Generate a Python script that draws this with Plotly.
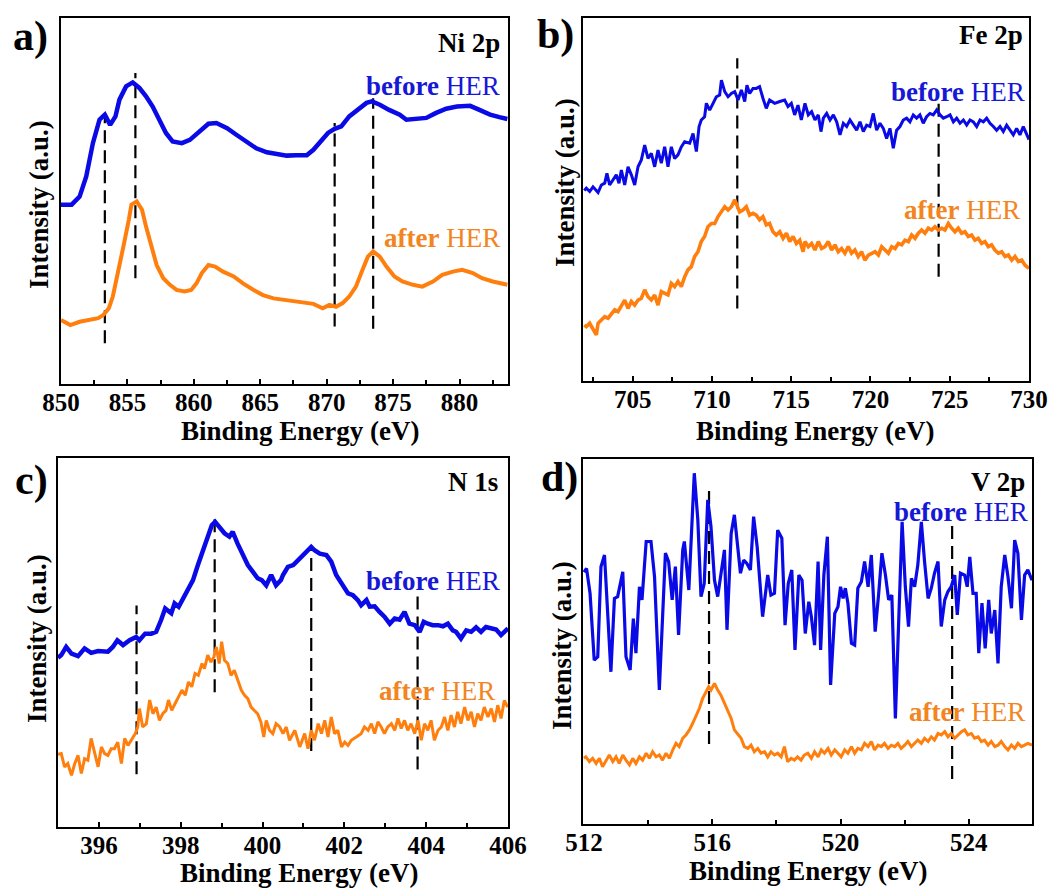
import plotly.graph_objects as go

# ---------------- data (Binding Energy in eV, intensity in a.u.) ----------------
# Panel a) Ni 2p
A_BEFORE_E = [850.0, 850.8, 851.4, 851.9, 852.4, 852.9, 853.3, 853.7, 854.1, 854.4, 854.9, 855.4, 855.9, 856.4,
              856.9, 857.4, 857.9, 858.4, 859.1, 859.7, 860.3, 860.7, 861.1, 861.7, 862.5, 863.2, 864.0, 864.7,
              865.5, 866.2, 867.0, 867.7, 868.5, 869.0, 869.5, 870.1, 870.6, 871.1, 871.7, 872.4, 873.0, 873.4,
              874.0, 874.7, 875.5, 876.0, 876.7, 877.5, 878.2, 879.0, 879.8, 880.8, 881.5, 882.3, 883.0, 883.6]
A_BEFORE_I = [49.0, 49.0, 51.2, 56.7, 65.8, 72.2, 73.6, 70.8, 73.1, 77.7, 81.3, 82.4, 80.9, 78.6,
              75.8, 72.2, 68.6, 66.3, 65.8, 66.7, 68.6, 69.9, 71.1, 71.3, 69.9, 68.1, 66.3, 64.4,
              63.3, 62.9, 62.4, 62.5, 62.5, 64.0, 66.3, 68.6, 69.7, 70.4, 73.1, 74.9, 76.8, 77.2,
              76.3, 74.9, 73.6, 72.2, 72.5, 72.7, 74.0, 75.2, 75.8, 76.0, 74.9, 73.6, 72.9, 72.4]
A_AFTER_E = [850.0, 850.7, 851.4, 852.2, 852.8, 853.2, 853.6, 853.9, 854.3, 854.7, 855.1, 855.3, 855.7, 856.1,
             856.4, 856.8, 857.2, 857.7, 858.2, 858.7, 859.3, 859.8, 860.2, 860.6, 861.1, 861.6, 862.2, 863.0,
             863.7, 864.5, 865.2, 866.0, 866.7, 867.5, 868.2, 869.0, 869.7, 870.2, 870.7, 871.2, 871.7, 872.2,
             872.7, 873.1, 873.5, 874.0, 874.5, 875.1, 875.7, 876.5, 877.2, 878.0, 878.7, 879.5, 880.2, 881.0,
             881.7, 882.5, 883.6]
A_AFTER_I = [17.5, 16.1, 17.0, 17.5, 18.0, 18.9, 20.7, 23.9, 30.3, 37.6, 44.8, 49.0, 49.9, 47.6,
             43.0, 37.6, 32.5, 28.9, 27.1, 25.7, 25.3, 25.7, 27.5, 30.3, 32.5, 32.1, 30.7, 29.4,
             27.5, 25.7, 24.3, 23.4, 23.0, 22.5, 22.1, 21.9, 20.7, 21.6, 21.1, 22.1, 23.9, 26.6,
             31.2, 34.8, 36.2, 34.8, 32.1, 29.4, 28.0, 27.1, 26.6, 28.0, 29.8, 30.7, 31.2, 30.3,
             28.9, 28.0, 27.1]
A_DASH_E = [853.3, 855.6, 870.6, 873.5]
A_DASH_LO = [11.1, 28.9, 15.7, 15.1]
A_DASH_HI = [73.6, 85.0, 71.3, 78.1]
A_TICKS = [850, 855, 860, 865, 870, 875, 880]

# Panel b) Fe 2p
B_BEFORE_E = [701.95, 702.08, 702.29, 702.50, 702.82, 703.03, 703.24, 703.38, 703.55, 703.76, 703.97, 704.14,
              704.29, 704.50, 704.71, 704.92, 705.13, 705.34, 705.55, 705.76, 705.97, 706.18, 706.39, 706.60,
              706.81, 707.02, 707.23, 707.44, 707.65, 707.86, 708.07, 708.28, 708.60, 708.81, 709.02, 709.19,
              709.33, 709.54, 709.65, 709.86, 710.07, 710.28, 710.49, 710.60, 710.81, 711.02, 711.23, 711.44,
              711.65, 711.86, 712.07, 712.21, 712.38, 712.59, 712.80, 713.01, 713.22, 713.43, 713.64, 713.96,
              714.28, 714.59, 714.80, 715.01, 715.22, 715.43, 715.64,
              715.87, 716.08, 716.29, 716.50, 716.71, 716.88, 717.03, 717.24, 717.45, 717.66, 717.87, 718.08,
              718.29, 718.50, 718.71, 718.92, 719.13, 719.34, 719.55, 719.76, 719.97, 720.18, 720.39, 720.60,
              720.81, 721.02, 721.23, 721.44, 721.65, 721.86, 722.07, 722.28, 722.49, 722.70, 722.91, 723.12,
              723.33, 723.54, 723.75, 723.96, 724.18, 724.39, 724.60, 724.81, 725.02, 725.23, 725.44, 725.65,
              725.86, 726.07, 726.28, 726.49, 726.70, 726.91, 727.12, 727.33, 727.54, 727.75, 727.96, 728.17,
              728.38, 728.59, 728.80, 729.01, 729.22, 729.43, 729.64, 729.85, 730.0]
B_BEFORE_I = [52.5, 53.1, 52.2, 53.5, 51.9, 54.0, 54.5, 57.2, 54.0, 55.4, 56.8, 54.5,
              58.1, 54.0, 59.0, 56.8, 54.0, 59.0, 60.9, 65.0, 61.3, 62.7, 59.0, 63.6,
              60.0, 64.5, 59.0, 64.5, 61.3, 62.3, 64.5, 65.9, 65.5, 68.2, 63.2, 70.1,
              71.9, 72.8, 76.5, 74.6, 76.5, 78.3, 78.8, 82.9, 79.7, 78.3, 79.2, 79.7,
              77.4, 80.2, 77.0, 81.5, 79.2, 80.6, 80.6, 81.1, 77.9, 75.1, 77.4, 76.5,
              77.0, 77.4, 75.6, 76.5, 73.3, 76.0, 71.9,
              76.5, 73.3, 74.2, 71.9, 73.3, 68.7, 72.4, 73.7, 71.9, 73.3, 71.4, 67.8,
              71.0, 70.1, 71.9, 70.5, 69.1, 71.4, 68.7, 70.5, 70.1, 73.7, 69.1, 71.0,
              69.6, 66.8, 69.6, 64.1, 69.1, 70.1, 71.9, 72.4, 71.4, 73.3, 72.4, 73.3,
              71.0, 72.8, 73.7, 73.3, 74.7, 73.3, 72.4, 72.8, 73.3, 71.4, 72.4, 71.0,
              71.9, 70.5, 71.9, 71.4, 70.1, 71.9, 71.4, 72.4, 71.0, 70.1, 69.1, 70.1,
              68.7, 70.5, 69.1, 67.8, 69.6, 67.8, 70.1, 67.8, 66.5]
B_AFTER_E = [701.95, 702.08, 702.29, 702.50, 702.71, 702.82, 703.03, 703.24, 703.45, 703.66, 703.87, 704.08,
             704.29, 704.50, 704.71, 704.92, 705.13, 705.34, 705.55, 705.76, 705.97, 706.18, 706.39, 706.60,
             706.81, 707.02, 707.23, 707.44, 707.65, 707.86, 708.07, 708.28, 708.49, 708.70, 708.91, 709.12,
             709.33, 709.54, 709.75, 709.97, 710.18, 710.39, 710.60, 710.81, 711.02, 711.23, 711.44, 711.65,
             711.75, 711.96, 712.17, 712.38, 712.59, 712.80, 713.01, 713.22, 713.43, 713.64, 713.85, 714.06,
             714.28, 714.49, 714.70, 714.91, 715.12, 715.33, 715.54, 715.75,
             715.87, 716.08, 716.29, 716.50, 716.71, 716.92, 717.13, 717.34, 717.55, 717.76, 717.97, 718.18,
             718.39, 718.60, 718.81, 719.02, 719.23, 719.44, 719.65, 719.87, 720.08, 720.29, 720.50, 720.71,
             720.92, 721.13, 721.34, 721.55, 721.76, 721.97, 722.18, 722.39, 722.60, 722.81, 723.02, 723.23,
             723.44, 723.65, 723.86, 724.07, 724.28, 724.49, 724.70, 724.91, 725.12, 725.33, 725.54, 725.75,
             725.96, 726.17, 726.38, 726.59, 726.80, 727.01, 727.22, 727.43, 727.64, 727.85, 728.07, 728.28,
             728.49, 728.70, 728.91, 729.12, 729.33, 729.54, 729.75, 730.0]
B_AFTER_I = [15.4, 15.0, 15.9, 14.5, 12.7, 15.9, 16.8, 17.7, 17.3, 18.6, 19.6, 19.1,
             20.9, 22.3, 20.0, 21.9, 20.9, 22.3, 22.8, 25.1, 23.2, 22.3, 23.7, 20.9,
             24.6, 24.1, 23.7, 26.9, 26.0, 27.4, 26.0, 28.7, 30.6, 31.5, 34.3, 35.6,
             38.4, 39.8, 42.5, 43.4, 43.4, 45.3, 46.6, 48.0, 47.1, 48.0, 49.9, 48.0,
             46.6, 47.1, 48.0, 45.7, 46.2, 45.7, 44.4, 45.3, 43.0, 43.4, 41.1, 40.2,
             41.1, 39.3, 40.7, 38.4, 39.8, 37.9, 38.8, 35.6,
             38.4, 37.0, 37.9, 36.1, 38.4, 36.5, 37.0, 38.4, 36.1, 37.5, 35.6, 36.5,
             35.2, 37.0, 35.2, 36.1, 34.3, 35.6, 33.3, 34.7, 35.2, 35.6, 34.7, 37.0,
             36.1, 35.2, 37.0, 36.5, 37.9, 37.5, 38.8, 38.4, 40.2, 39.3, 40.7, 41.6,
             40.7, 42.1, 41.6, 42.5, 41.6, 42.1, 41.6, 43.4, 42.1, 41.1, 42.1, 40.7,
             41.1, 39.8, 40.2, 38.8, 39.3, 37.9, 38.4, 37.0, 37.5, 36.1, 35.2, 35.6,
             34.3, 34.7, 33.3, 34.3, 32.9, 33.3, 31.9, 31.0]
B_DASH_E = [711.6, 724.3]
B_DASH_LO = [20.0, 28.7]
B_DASH_HI = [88.9, 77.9]
B_TICKS = [705, 710, 715, 720, 725, 730]

# Panel c) N 1s
C_BEFORE_E = [395.0, 395.08, 395.20, 395.33, 395.49, 395.65, 395.81, 395.98, 396.22, 396.34, 396.45, 396.59,
              396.75, 396.91, 396.99, 397.13, 397.28, 397.40, 397.52, 397.62, 397.77, 397.85, 397.95, 398.05,
              398.17, 398.30, 398.42, 398.54, 398.66, 398.76, 398.84, 398.95, 399.07, 399.19, 399.27, 399.39,
              399.52, 399.64, 399.76, 399.88, 399.98, 400.09, 400.21, 400.33, 400.45,
              400.50, 400.62, 400.75, 400.87, 400.99, 401.11, 401.19, 401.27, 401.40, 401.56, 401.68, 401.80,
              401.97, 402.09, 402.21, 402.33, 402.41, 402.54, 402.62, 402.74, 402.86, 402.98, 403.11, 403.23,
              403.35, 403.47, 403.59, 403.72, 403.84, 403.94, 404.04, 404.16, 404.29, 404.41, 404.53, 404.65,
              404.73, 404.85, 404.98, 405.10, 405.22, 405.34, 405.46, 405.59, 405.71, 405.83, 405.95, 406.0]
C_BEFORE_I = [45.9, 46.6, 48.8, 47.0, 46.3, 48.4, 47.2, 47.7, 47.5, 48.8, 50.6, 49.3,
              50.6, 51.5, 50.6, 52.4, 52.4, 52.9, 56.1, 59.2, 57.9, 60.6, 59.7, 61.9,
              64.2, 66.9, 71.0, 75.0, 78.2, 81.8, 82.7, 81.4, 79.6, 78.7, 80.0, 76.8,
              73.7, 71.0, 69.2, 67.4, 66.9, 65.5, 68.3, 65.5, 66.9,
              68.3, 70.5, 71.0, 72.3, 73.7, 75.0, 75.9, 75.0, 74.1, 73.7, 71.9, 68.3,
              65.5, 63.3, 62.8, 61.5, 60.1, 61.5, 59.7, 59.8, 58.3, 57.0, 55.1, 56.5,
              56.2, 58.3, 55.1, 54.7, 52.9, 55.6, 55.1, 54.7, 54.7, 54.4, 55.1, 53.3,
              52.9, 51.1, 53.3, 52.9, 54.1, 52.9, 54.2, 53.8, 53.5, 52.0, 53.5, 53.8]
C_AFTER_E = [395.0, 395.08, 395.16, 395.24, 395.33, 395.41, 395.49, 395.57, 395.65, 395.73, 395.81, 395.90,
             395.98, 396.06, 396.14, 396.22, 396.30, 396.38, 396.46, 396.55, 396.63, 396.71, 396.79, 396.89,
             396.95, 396.99, 397.07, 397.16, 397.24, 397.32, 397.40, 397.48, 397.56, 397.64, 397.70, 397.78,
             397.86, 397.95, 398.03, 398.11, 398.19, 398.27, 398.35, 398.43, 398.52, 398.58, 398.66, 398.74,
             398.81, 398.87, 398.94, 399.00, 399.07, 399.15, 399.23, 399.31, 399.39, 399.48, 399.56, 399.64,
             399.72, 399.80, 399.88, 399.96, 400.03, 400.09, 400.17, 400.25, 400.33,
             400.42, 400.50, 400.58, 400.66, 400.79, 400.91, 401.03, 401.11, 401.19, 401.27, 401.36, 401.44,
             401.52, 401.60, 401.68, 401.76, 401.84, 401.93, 402.01, 402.09, 402.17, 402.29, 402.41, 402.49,
             402.58, 402.66, 402.74, 402.82, 402.90, 402.98, 403.06, 403.15, 403.23, 403.31, 403.39, 403.47,
             403.55, 403.63, 403.72, 403.80, 403.88, 403.96, 404.04, 404.12, 404.20, 404.29, 404.37, 404.45,
             404.53, 404.61, 404.69, 404.77, 404.85, 404.94, 405.02, 405.10, 405.18, 405.26, 405.34, 405.42,
             405.51, 405.59, 405.67, 405.75, 405.83, 405.91, 405.99]
C_AFTER_I = [19.7, 19.9, 16.3, 17.2, 14.0, 17.2, 19.4, 14.5, 18.5, 18.1, 24.0, 19.9,
             16.3, 21.7, 19.9, 19.4, 21.2, 21.2, 23.0, 17.2, 24.0, 22.1, 23.5, 25.3,
             27.1, 32.1, 27.1, 28.0, 34.4, 30.7, 32.5, 28.9, 30.7, 31.6, 34.4, 31.6,
             33.4, 35.3, 37.1, 35.7, 39.3, 38.0, 41.6, 41.1, 44.3, 42.9, 46.6, 44.7,
             46.1, 48.8, 44.3, 50.2, 45.2, 44.3, 41.1, 42.5, 39.8, 37.1, 35.7, 34.8,
             32.5, 31.6, 30.7, 28.5, 24.4, 28.9, 26.2, 25.3, 28.0,
             27.1, 25.3, 27.1, 23.5, 26.2, 21.7, 25.3, 21.2, 26.2, 23.5, 28.0, 25.3,
             28.9, 24.4, 29.8, 25.3, 26.2, 21.7, 23.0, 22.1, 23.5, 24.4, 25.3, 27.1,
             26.2, 28.0, 25.3, 28.5, 27.1, 25.3, 27.1, 28.0, 26.2, 29.4, 26.7, 28.9,
             26.2, 28.0, 25.3, 28.9, 23.5, 28.0, 26.2, 28.9, 23.5, 26.2, 27.1, 29.8,
             26.2, 30.3, 27.1, 31.2, 28.0, 32.5, 28.9, 31.2, 27.1, 30.7, 28.9, 32.5,
             29.8, 32.1, 28.5, 33.0, 29.4, 34.3, 32.5]
C_DASH_E = [396.92, 398.83, 401.19, 403.79]
C_DASH_LO = [14.3, 36.5, 20.6, 15.6]
C_DASH_HI = [60.0, 84.8, 76.2, 63.1]
C_TICKS = [396, 398, 400, 402, 404, 406]

# Panel d) V 2p
D_BEFORE_E = [512.0, 512.08, 512.19, 512.32, 512.43, 512.53, 512.64, 512.74, 512.84, 512.95, 513.05, 513.21,
              513.31, 513.44, 513.54, 513.62, 513.73, 513.81, 513.94, 514.09, 514.20, 514.35, 514.54, 514.64,
              514.75, 514.85, 514.95, 515.08, 515.13, 515.27, 515.44, 515.55, 515.65, 515.75, 515.86, 515.96,
              516.07, 516.17, 516.27, 516.38, 516.46, 516.59, 516.69, 516.79, 516.88, 516.98, 517.08, 517.19,
              517.29, 517.40, 517.47, 517.57, 517.73, 517.83, 517.94, 518.04, 518.17, 518.27, 518.37, 518.48,
              518.58, 518.70, 518.80, 518.90, 519.01,
              519.09, 519.19, 519.30, 519.38, 519.48, 519.59, 519.69, 519.82, 519.92, 520.00, 520.08, 520.15,
              520.23, 520.34, 520.44, 520.54, 520.65, 520.75, 520.86, 520.96, 521.08, 521.19, 521.29, 521.40,
              521.50, 521.60, 521.71, 521.79, 521.92, 522.02, 522.12, 522.21, 522.31, 522.41, 522.52, 522.62,
              522.73, 522.83, 522.93, 523.04, 523.14, 523.25, 523.35, 523.45, 523.56, 523.64, 523.74, 523.87,
              523.95, 524.03, 524.13, 524.23, 524.31, 524.41, 524.51, 524.62, 524.70, 524.81, 524.91, 525.01,
              525.12, 525.22, 525.33, 525.43, 525.53, 525.64, 525.74, 525.84, 525.97]
D_BEFORE_I = [69.0, 70.0, 63.2, 44.9, 45.8, 70.5, 73.7, 58.6, 41.7, 61.8, 62.3, 69.1,
              45.8, 42.2, 56.3, 46.8, 65.0, 61.4, 77.4, 77.4, 67.8, 36.7, 74.2, 71.9,
              61.4, 70.5, 51.8, 75.1, 77.4, 64.1, 96.1, 83.3, 62.3, 65.9, 88.8, 81.5,
              66.8, 62.3, 67.8, 75.1, 53.2, 79.6, 84.7, 76.0, 68.7, 72.3, 71.4, 69.6,
              84.2, 76.0, 67.8, 56.8, 68.2, 62.7, 63.2, 80.5, 78.3, 54.5, 65.9, 69.6,
              47.7, 68.2, 66.8, 52.2, 60.9,
              56.8, 49.0, 71.9, 47.7, 68.2, 78.7, 38.1, 57.7, 59.5, 65.0, 61.8, 64.6,
              60.5, 49.5, 49.0, 64.6, 66.4, 71.9, 65.0, 73.7, 52.7, 63.2, 74.2, 68.2,
              61.4, 62.7, 28.9, 49.5, 82.8, 65.0, 54.1, 67.3, 65.0, 71.0, 82.8, 71.9,
              61.8, 64.6, 68.7, 71.9, 54.1, 61.4, 63.7, 65.0, 68.2, 57.3, 68.7, 68.2,
              65.0, 73.2, 63.2, 63.2, 46.8, 60.5, 48.1, 61.4, 52.2, 58.6, 44.0, 65.0,
              73.7, 67.8, 59.1, 77.8, 74.2, 55.9, 68.2, 69.6, 66.8]
D_AFTER_E = [512.0, 512.06, 512.17, 512.27, 512.38, 512.48, 512.58, 512.69, 512.79, 512.90, 513.00, 513.10,
             513.21, 513.31, 513.42, 513.52, 513.62, 513.73, 513.83, 513.94, 514.04, 514.14, 514.25, 514.35,
             514.45, 514.56, 514.66, 514.77, 514.87, 514.97, 515.08, 515.18, 515.29, 515.39, 515.49, 515.60,
             515.70, 515.81, 515.89, 515.96, 516.07, 516.17, 516.27, 516.38, 516.48, 516.59, 516.69, 516.79,
             516.90, 517.00, 517.11, 517.21, 517.31, 517.42, 517.52, 517.63, 517.73, 517.83, 517.94, 518.04,
             518.15, 518.25, 518.35, 518.46, 518.56, 518.66, 518.77, 518.87,
             518.98, 519.09, 519.19, 519.30, 519.40, 519.50, 519.61, 519.71, 519.82, 519.92, 520.02, 520.13,
             520.23, 520.34, 520.44, 520.54, 520.65, 520.75, 520.86, 520.96, 521.06, 521.17, 521.27, 521.37,
             521.48, 521.58, 521.69, 521.79, 521.89, 522.00, 522.10, 522.21, 522.31, 522.41, 522.52, 522.62,
             522.73, 522.83, 522.93, 523.04, 523.14, 523.25, 523.35, 523.45, 523.56, 523.66, 523.77, 523.87,
             523.97, 524.08, 524.18, 524.29, 524.39, 524.49, 524.60, 524.70, 524.81, 524.91, 525.01, 525.12,
             525.22, 525.33, 525.43, 525.53, 525.64, 525.74, 525.84, 525.97]
D_AFTER_I = [18.0, 18.4, 17.1, 18.0, 16.6, 18.0, 15.7, 17.5, 18.9, 17.1, 18.4, 16.6,
             18.9, 17.5, 16.2, 18.0, 16.6, 18.4, 17.5, 19.4, 18.0, 19.8, 18.4, 18.9,
             17.5, 19.4, 18.0, 20.3, 22.1, 21.2, 23.5, 24.4, 25.8, 27.6, 29.4, 31.7,
             34.4, 36.3, 37.6, 36.7, 38.5, 36.7, 35.3, 33.1, 31.2, 28.9, 25.8, 24.8,
             23.5, 21.2, 20.7, 21.6, 19.8, 20.7, 19.4, 19.8, 18.4, 19.8, 18.9, 19.4,
             18.4, 21.2, 17.1, 18.0, 17.5, 18.4, 17.5, 18.9,
             19.4, 18.0, 19.8, 18.4, 20.3, 19.4, 20.7, 18.9, 20.3, 19.4, 18.4, 20.3,
             19.4, 21.2, 19.4, 20.7, 20.3, 22.1, 21.2, 22.6, 20.3, 21.6, 21.2, 22.1,
             20.7, 21.6, 21.2, 22.1, 20.7, 21.6, 22.6, 21.2, 22.1, 23.0, 22.1, 23.5,
             22.6, 23.9, 23.0, 24.8, 24.4, 25.3, 23.9, 24.8, 23.5, 24.4, 25.3, 25.8,
             24.4, 24.8, 23.5, 23.9, 22.6, 23.0, 21.6, 22.6, 21.2, 21.6, 22.6, 21.2,
             20.3, 21.6, 20.7, 22.1, 21.2, 21.6, 22.1, 21.6]
D_DASH_E = [515.9, 523.48]
D_DASH_LO = [21.9, 12.3]
D_DASH_HI = [91.8, 83.1]
D_TICKS = [512, 516, 520, 524]

# ---------------- styling ----------------
FONT = "Liberation Serif, Times New Roman, serif"
BLUE = "#0A0AE6"
ORANGE = "#FF7F0E"
BLUE_TXT = "#1717D6"
ORANGE_TXT = "#F28522"

W, H = 1059, 888


def px_dom(p0, p1, total):
    return [p0 / total, p1 / total]


def py_dom(top, bottom):
    return [1 - bottom / H, 1 - top / H]


panels = [
    dict(idx="", before=(A_BEFORE_E, A_BEFORE_I), after=(A_AFTER_E, A_AFTER_I),
         dash=(A_DASH_E, A_DASH_LO, A_DASH_HI), ticks=A_TICKS, minor=2.5, xr=[850, 883.65],
         xd=px_dom(61, 508, W), yd=py_dom(18, 384), lwb=4.5, lwa=4.0,
         label="a)", lab_xy=(30, 36), elem="Ni 2p", elem_xy=(0.987, 0.932),
         bef_xy=(0.987, 0.814), aft_xy=(0.987, 0.399), xt_xy=(300, 431), yt_xy=(39, 205)),
    dict(idx="2", before=(B_BEFORE_E, B_BEFORE_I), after=(B_AFTER_E, B_AFTER_I),
         dash=(B_DASH_E, B_DASH_LO, B_DASH_HI), ticks=B_TICKS, minor=2.5, xr=[701.87, 730.0],
         xd=px_dom(583, 1029, W), yd=py_dom(18, 381), lwb=3.0, lwa=3.6,
         label="b)", lab_xy=(555, 35), elem="Fe 2p", elem_xy=(0.991, 0.953),
         bef_xy=(0.996, 0.796), aft_xy=(0.984, 0.471), xt_xy=(815, 431), yt_xy=(565, 183)),
    dict(idx="3", before=(C_BEFORE_E, C_BEFORE_I), after=(C_AFTER_E, C_AFTER_I),
         dash=(C_DASH_E, C_DASH_LO, C_DASH_HI), ticks=C_TICKS, minor=1, xr=[395.0, 406.0],
         xd=px_dom(58, 508, W), yd=py_dom(458, 827), lwb=4.5, lwa=3.0,
         label="c)", lab_xy=(31, 480), elem="N 1s", elem_xy=(0.982, 0.935),
         bef_xy=(0.987, 0.667), aft_xy=(0.976, 0.369), xt_xy=(299, 873), yt_xy=(37, 639)),
    dict(idx="4", before=(D_BEFORE_E, D_BEFORE_I), after=(D_AFTER_E, D_AFTER_I),
         dash=(D_DASH_E, D_DASH_LO, D_DASH_HI), ticks=D_TICKS, minor=2, xr=[511.97, 525.97],
         xd=px_dom(583, 1032, W), yd=py_dom(459, 824), lwb=3.2, lwa=3.0,
         label="d)", lab_xy=(559, 477), elem="V 2p", elem_xy=(0.989, 0.937),
         bef_xy=(0.996, 0.855), aft_xy=(0.989, 0.307), xt_xy=(808, 871), yt_xy=(562, 646)),
]

fig = go.Figure()
annotations = []
layout_axes = {}

for p in panels:
    i = p["idx"]
    xa, ya = "x" + i, "y" + i
    # dashed guide lines
    dx, dy = [], []
    for e, lo, hi in zip(*p["dash"]):
        dx += [e, e, None]
        dy += [lo, hi, None]
    fig.add_trace(go.Scatter(x=dx, y=dy, mode="lines", xaxis=xa, yaxis=ya, showlegend=False,
                             line=dict(color="black", width=2.2, dash="13px,7px"), hoverinfo="skip"))
    fig.add_trace(go.Scatter(x=p["before"][0], y=p["before"][1], mode="lines", xaxis=xa, yaxis=ya,
                             showlegend=False, line=dict(color=BLUE, width=p["lwb"])))
    fig.add_trace(go.Scatter(x=p["after"][0], y=p["after"][1], mode="lines", xaxis=xa, yaxis=ya,
                             showlegend=False, line=dict(color=ORANGE, width=p["lwa"])))

    layout_axes["xaxis" + i] = dict(
        domain=p["xd"], range=p["xr"], anchor=ya, showgrid=False, zeroline=False, automargin=False,
        showline=True, linecolor="black", linewidth=2, mirror=True,
        ticks="inside", ticklen=5, tickwidth=2, tickcolor="black",
        tickmode="array", tickvals=p["ticks"], ticktext=[str(t) for t in p["ticks"]],
        ticklabelstandoff=-5,
        tickfont=dict(family=FONT, size=25, color="black", weight="bold"),
        minor=dict(ticks="inside", ticklen=4, tickwidth=2, tickcolor="black",
                   tick0=p["ticks"][0], dtick=p["minor"], showgrid=False),
    )
    layout_axes["yaxis" + i] = dict(
        domain=p["yd"], range=[0, 100], anchor=xa, showgrid=False, zeroline=False, automargin=False,
        showline=True, linecolor="black", linewidth=2, mirror=True,
        ticks="", showticklabels=False,
    )

    xdom = ("x" + i if i else "x") + " domain"
    ydom = ("y" + i if i else "y") + " domain"
    annotations.append(dict(text="<b>%s</b>" % p["elem"], x=p["elem_xy"][0], y=p["elem_xy"][1],
                            xref=xdom, yref=ydom, xanchor="right", yanchor="middle", showarrow=False,
                            font=dict(family=FONT, size=27, color="black")))
    annotations.append(dict(text="<b>before</b> HER", x=p["bef_xy"][0], y=p["bef_xy"][1],
                            xref=xdom, yref=ydom, xanchor="right", yanchor="middle", showarrow=False,
                            font=dict(family=FONT, size=27, color=BLUE_TXT)))
    annotations.append(dict(text="<b>after</b> HER", x=p["aft_xy"][0], y=p["aft_xy"][1],
                            xref=xdom, yref=ydom, xanchor="right", yanchor="middle", showarrow=False,
                            font=dict(family=FONT, size=27, color=ORANGE_TXT)))
    annotations.append(dict(text="<b>%s</b>" % p["label"], x=p["lab_xy"][0] / W, y=1 - p["lab_xy"][1] / H,
                            xref="paper", yref="paper", xanchor="center", yanchor="middle", showarrow=False,
                            font=dict(family=FONT, size=42, color="black")))
    annotations.append(dict(text="<b>Binding Energy (eV)</b>", x=p["xt_xy"][0] / W, y=1 - p["xt_xy"][1] / H,
                            xref="paper", yref="paper", xanchor="center", yanchor="middle", showarrow=False,
                            font=dict(family=FONT, size=27, color="black")))
    annotations.append(dict(text="<b>Intensity (a.u.)</b>", x=p["yt_xy"][0] / W, y=1 - p["yt_xy"][1] / H,
                            xref="paper", yref="paper", xanchor="center", yanchor="middle", showarrow=False,
                            textangle=-90, font=dict(family=FONT, size=27, color="black")))

fig.update_layout(
    width=W, height=H, autosize=False,
    margin=dict(l=0, r=0, t=0, b=0, pad=0),
    paper_bgcolor="white", plot_bgcolor="white",
    showlegend=False, annotations=annotations,
    font=dict(family=FONT, color="black"),
    **layout_axes,
)

fig.write_html("out.html")
